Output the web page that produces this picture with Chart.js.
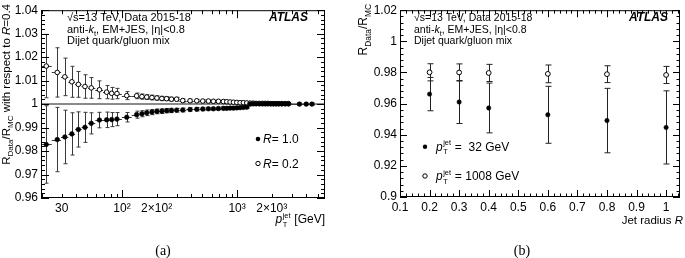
<!DOCTYPE html>
<html><head><meta charset="utf-8">
<script src="https://cdn.jsdelivr.net/npm/chart.js@4/dist/chart.umd.min.js"></script>
<style>
html,body{margin:0;padding:0;background:#fff;}
#wrap{position:relative;width:685px;height:258px;overflow:hidden;background:#fff;}
canvas{position:absolute;top:0;}
#ca{left:0;}
#cb{left:342px;}
</style></head><body>
<div id="wrap">
<canvas id="ca" width="342" height="258"></canvas>
<canvas id="cb" width="343" height="258"></canvas>
</div>
<script>
// ---------- Panel (a) data ----------
const ptBins = [22,27.4,31.9,36.7,41.8,47.7,54.1,63.7,73.6,81.4,90.5,110,134,149,164,182,201,222,244,269,298,337,390,446,503,563,622,688,760,814,869,929,994,1062,1134,1214,1297,1378,1463,1563,1660,1752,1849,1963,2069,2184,2305,2447,2615,2793,3480,3981,4463];
const ratioR02 = [1.0162,1.0135,1.0116,1.0095,1.0084,1.0075,1.0069,1.0061,1.0051,1.0046,
  1.0045,1.0036,1.0035,1.0032,1.0030,1.0028,1.0026,1.0024,1.0023,1.0021,
  1.0021,1.0015,1.0014,1.0014,1.0013,1.0013,1.0012,1.0012,1.0011,1.0010,
  1.0009,1.0008,1.0007,1.0006,1.0006,1.0005,1.0004,1.0004,1.0003,1.0003,
  1.0003,1.0003,1.0003,1.0002,1.0002,1.0002,1.0002,1.0002,1.0002,1.0002];
const errR02 = [0.0135,0.0105,0.0080,0.0066,0.0055,0.0050,0.0044,0.0038,0.0028,0.0025,
  0.0022,0.0017,0.0012,0.0011,0.0010,0.0010,0.0009,0.0009,0.0008,0.0008,
  0.0008,0.0007,0.0007,0.0006,0.0006,0.0006,0.0005,0.0005,0.0005,0.0005,
  0.0004,0.0004,0.0004,0.0004,0.0004,0.0004,0.0004,0.0003,0.0003,0.0003,
  0.0003,0.0003,0.0003,0.0003,0.0003,0.0003,0.0003,0.0003,0.0003,0.0003];
const ratioR10 = [0.9828,0.9849,0.9860,0.9873,0.9892,0.9901,0.9918,0.9932,0.9933,0.9934,
  0.9936,0.9944,0.9955,0.9959,0.9963,0.9966,0.9969,0.9970,0.9972,0.9973,
  0.9974,0.9975,0.9977,0.9978,0.9979,0.9980,0.9980,0.9981,0.9982,0.9982,
  0.9983,0.9983,0.9984,0.9985,0.9986,0.9987,1.0000,1.0001,1.0001,1.0001,
  1.0001,1.0001,1.0001,1.0001,1.0001,1.0001,1.0001,1.0001,1.0001,1.0001,
  1.0000,1.0000,1.0000];
const errR10 = [0.0165,0.0137,0.0114,0.0090,0.0075,0.0064,0.0045,0.0033,0.0033,0.0030,
  0.0028,0.0020,0.0015,0.0013,0.0012,0.0011,0.0010,0.0010,0.0009,0.0009,
  0.0008,0.0008,0.0007,0.0007,0.0007,0.0006,0.0006,0.0006,0.0006,0.0005,
  0.0005,0.0005,0.0005,0.0005,0.0005,0.0005,0.0004,0.0004,0.0004,0.0004,
  0.0004,0.0004,0.0004,0.0004,0.0004,0.0004,0.0004,0.0004,0.0004,0.0004,
  0.0005,0.0005,0.0006];
const xTickValsA = [30,100,200,1000,2000];
const xTickLabelsA = ['30','10\u00B2','2\u00D710\u00B2','10\u00B3','2\u00D710\u00B3'];
const yTickValsA = [0.96,0.97,0.98,0.99,1,1.01,1.02,1.03,1.04];
const yTickLabelsA = ['0.96','0.97','0.98','0.99','1','1.01','1.02','1.03','1.04'];

// ---------- Panel (b) data ----------
const jetRadius = [0.2,0.3,0.4,0.6,0.8,1.0];
const ratioPt32 = [0.9661,0.9610,0.9572,0.9528,0.9491,0.9447];
const errPt32 = [0.0107,0.0138,0.0160,0.0183,0.0207,0.0235];
const ratioPt1008 = [0.9801,0.9800,0.9797,0.9791,0.9789,0.9784];
const errPt1008 = [0.0055,0.0055,0.0055,0.0057,0.0054,0.0055];
const xTickValsB = [0.1,0.2,0.3,0.4,0.5,0.6,0.7,0.8,0.9,1.0];
const xTickLabelsB = ['0.1','0.2','0.3','0.4','0.5','0.6','0.7','0.8','0.9','1'];
const yTickValsB = [0.9,0.92,0.94,0.96,0.98,1.0,1.02];
const yTickLabelsB = ['0.9','0.92','0.94','0.96','0.98','1','1.02'];

// ---------- helpers ----------
const SANS = '"Liberation Sans", Arial, Helvetica, sans-serif';
function setFont(ctx, size, style){ ctx.font = (style ? style + ' ' : '') + size + 'px ' + SANS; }
function drawRich(ctx, segs, x, y, size, align){
  let w = 0; const parts = [];
  const ssz = size*0.62;
  for (const g of segs){
    if (g.s === 'ss'){
      setFont(ctx, ssz, '');
      const w1 = ctx.measureText(g.t[0]).width, w2 = ctx.measureText(g.t[1]).width;
      parts.push({g, x:w}); w += Math.max(w1, w2) + 1;
    } else {
      let sz = size, st = '';
      if (g.s === 'i') st = 'italic';
      if (g.s === 'b') st = 'bold italic';
      if (g.s === 'sub' || g.s === 'sup') sz = size*0.7;
      setFont(ctx, sz, st);
      parts.push({g, x:w, sz, st}); w += ctx.measureText(g.t).width;
    }
  }
  const x0 = align === 'right' ? x - w : align === 'center' ? x - w/2 : x;
  ctx.textBaseline = 'alphabetic'; ctx.textAlign = 'left'; ctx.fillStyle = '#000';
  for (const p of parts){
    const g = p.g;
    if (g.s === 'ss'){
      setFont(ctx, ssz, '');
      ctx.fillText(g.t[0], x0 + p.x + 0.5, y + size*0.33);
      ctx.fillText(g.t[1], x0 + p.x + 0.5, y - size*0.42);
    } else {
      setFont(ctx, p.sz, p.st);
      const dy = g.s === 'sub' ? size*0.3 : g.s === 'sup' ? -size*0.45 : 0;
      ctx.fillText(g.t, x0 + p.x, y + dy);
    }
  }
  return w;
}
function drawTicks(chart, xs, ys){
  const {ctx, chartArea:ca, scales:{x, y}} = chart;
  ctx.save(); ctx.strokeStyle = '#000'; ctx.lineWidth = 1; ctx.beginPath();
  for (const [v, L] of xs){
    const px = Math.round(x.getPixelForValue(v)) + 0.5;
    if (px < ca.left || px > ca.right) continue;
    ctx.moveTo(px, ca.bottom); ctx.lineTo(px, ca.bottom - L);
    ctx.moveTo(px, ca.top); ctx.lineTo(px, ca.top + L);
  }
  for (const [v, L] of ys){
    const py = Math.round(y.getPixelForValue(v)) + 0.5;
    if (py < ca.top - 1 || py > ca.bottom + 1) continue;
    ctx.moveTo(ca.left, py); ctx.lineTo(ca.left + L, py);
    ctx.moveTo(ca.right, py); ctx.lineTo(ca.right - L, py);
  }
  ctx.stroke();
  ctx.strokeRect(ca.left + 0.5, ca.top + 0.5, ca.right - ca.left - 1, ca.bottom - ca.top - 1);
  ctx.restore();
}
function vErr(ctx, px, yScale, v, e, cap){
  const t = yScale.getPixelForValue(v + e), b = yScale.getPixelForValue(v - e);
  ctx.moveTo(px, t); ctx.lineTo(px, b);
  if (cap){ ctx.moveTo(px - cap, t); ctx.lineTo(px + cap, t); ctx.moveTo(px - cap, b); ctx.lineTo(px + cap, b); }
}

// ---------- Panel (a) ----------
const pluginA = {
  id: 'pa',
  beforeDatasetsDraw(chart){
    const {ctx, chartArea:ca, scales:{x, y}} = chart;
    ctx.save();
    ctx.beginPath(); ctx.rect(ca.left, ca.top, ca.right - ca.left, ca.bottom - ca.top); ctx.clip();
    ctx.strokeStyle = '#8a8a8a'; ctx.lineWidth = 2;
    const y1 = y.getPixelForValue(1);
    ctx.beginPath(); ctx.moveTo(ca.left, y1); ctx.lineTo(ca.right, y1); ctx.stroke();
    ctx.strokeStyle = '#3a3a3a'; ctx.lineWidth = 1;
    const series = [[ratioR02, errR02], [ratioR10, errR10]];
    for (const [vals, errs] of series){
      ctx.beginPath();
      for (let i = 0; i < vals.length; i++){
        const p = ptBins[i];
        const lo = i > 0 ? Math.sqrt(ptBins[i-1]*p) : p*p/Math.sqrt(p*ptBins[i+1]);
        const hi = i < ptBins.length - 1 ? Math.sqrt(p*ptBins[i+1]) : p*p/Math.sqrt(ptBins[i-1]*p);
        const px = Math.round(x.getPixelForValue(p)) + 0.5;
        const py = Math.round(y.getPixelForValue(vals[i])) + 0.5;
        ctx.moveTo(x.getPixelForValue(lo), py); ctx.lineTo(x.getPixelForValue(hi), py);
        vErr(ctx, px, y, vals[i], errs[i], 2);
      }
      ctx.stroke();
    }
    ctx.restore();
  },
  afterDraw(chart){
    const {ctx} = chart;
    const xs = [], ys = [];
    for (const d of [10,100,1000]) for (let k = 1; k < 10; k++){ const v = d*k; if (v >= 20 && v <= 5800) xs.push([v, k === 1 ? 8 : 4]); }
    for (let i = 0; i <= 40; i++){ ys.push([0.96 + i*0.002, i % 5 === 0 ? 8 : 4]); }
    drawTicks(chart, xs, ys);
    // texts
    drawRich(ctx, [{t:'\u221As=13 TeV, Data 2015-18', s:'n'}], 67, 21, 11, 'left');
    drawRich(ctx, [{t:'anti-', s:'n'}, {t:'k', s:'i'}, {t:'t', s:'sub'}, {t:', EM+JES, |\u03B7|<0.8', s:'n'}], 67, 32.5, 11, 'left');
    drawRich(ctx, [{t:'Dijet quark/gluon mix', s:'n'}], 67, 44, 11, 'left');
    drawRich(ctx, [{t:'ATLAS', s:'b'}], 308, 21, 12, 'right');
    // legend
    ctx.fillStyle = '#000';
    ctx.beginPath(); ctx.arc(258, 139, 2.3, 0, 2*Math.PI); ctx.fill();
    ctx.strokeStyle = '#000'; ctx.lineWidth = 1;
    ctx.beginPath(); ctx.arc(258, 163.5, 2.2, 0, 2*Math.PI); ctx.stroke();
    drawRich(ctx, [{t:'R', s:'i'}, {t:'= 1.0', s:'n'}], 263, 143.3, 12, 'left');
    drawRich(ctx, [{t:'R', s:'i'}, {t:'= 0.2', s:'n'}], 263, 167.8, 12, 'left');
    // axis titles
    drawRich(ctx, [{t:'p', s:'i'}, {t:['T','jet'], s:'ss'}, {t:' [GeV]', s:'n'}], 325, 223, 12, 'right');
    ctx.save(); ctx.translate(10, 4); ctx.rotate(-Math.PI/2);
    drawRich(ctx, [{t:'R', s:'n'}, {t:'Data', s:'sub'}, {t:'/R', s:'n'}, {t:'MC', s:'sub'}, {t:' with respect to ', s:'n'}, {t:'R', s:'i'}, {t:'=0.4', s:'n'}], 0, 0, 11.5, 'right');
    ctx.restore();
    ctx.fillStyle = '#000'; ctx.font = '14px "Liberation Serif", "Times New Roman", serif';
    ctx.textAlign = 'center'; ctx.textBaseline = 'alphabetic';
    ctx.fillText('(a)', 163, 255);
  }
};

new Chart(document.getElementById('ca'), {
  type: 'scatter',
  data: { datasets: [
    { label: 'R = 1.0', data: ratioR10.map((v, i) => ({x: ptBins[i], y: v})),
      pointRadius: 2.3, pointBackgroundColor: '#000', pointBorderColor: '#000', pointBorderWidth: 0.6, showLine: false, order: 0 },
    { label: 'R = 0.2', data: ratioR02.map((v, i) => ({x: ptBins[i], y: v})),
      pointRadius: 2.3, pointBackgroundColor: '#fff', pointBorderColor: '#000', pointBorderWidth: 1, showLine: false, order: 1 }
  ]},
  options: {
    responsive: false, animation: false, devicePixelRatio: 1,
    layout: { padding: { top: 5, right: 17, left: 0, bottom: 0 } },
    plugins: { legend: { display: false }, tooltip: { enabled: false } },
    scales: {
      x: { type: 'logarithmic', min: 19.8, max: 5800,
        afterFit(s){ s.height = 60; },
        afterBuildTicks(s){ s.ticks = xTickValsA.map(v => ({value: v})); },
        ticks: { autoSkip: false, maxRotation: 0, padding: 3, color: '#000',
          font: { family: SANS, size: 12 }, callback: (v, i) => xTickLabelsA[i] },
        grid: { display: false, drawTicks: false }, border: { display: false } },
      y: { min: 0.96, max: 1.04,
        afterFit(s){ s.width = 41; },
        afterBuildTicks(s){ s.ticks = yTickValsA.map(v => ({value: v})); },
        ticks: { autoSkip: false, padding: 3, color: '#000',
          font: { family: SANS, size: 12 }, callback: (v, i) => yTickLabelsA[i] },
        grid: { display: false, drawTicks: false }, border: { display: false } }
    }
  },
  plugins: [pluginA]
});

// ---------- Panel (b) ----------
const pluginB = {
  id: 'pb',
  beforeDatasetsDraw(chart){
    const {ctx, scales:{x, y}} = chart;
    ctx.save(); ctx.strokeStyle = '#222'; ctx.lineWidth = 1; ctx.beginPath();
    for (const [vals, errs] of [[ratioPt32, errPt32], [ratioPt1008, errPt1008]]){
      for (let i = 0; i < vals.length; i++){
        const px = Math.round(x.getPixelForValue(jetRadius[i])) + 0.5;
        vErr(ctx, px, y, vals[i], errs[i], 3);
      }
    }
    ctx.stroke(); ctx.restore();
  },
  afterDraw(chart){
    const {ctx} = chart;
    const xs = [], ys = [];
    for (let i = 0; i <= 47; i++) xs.push([0.1 + i*0.02, i % 5 === 0 ? 7 : 3.5]);
    for (let i = 0; i <= 30; i++) ys.push([0.9 + i*0.004, i % 5 === 0 ? 7 : 3.5]);
    drawTicks(chart, xs, ys);
    drawRich(ctx, [{t:'\u221As=13 TeV, Data 2015-18', s:'n'}], 72, 21, 10.5, 'left');
    drawRich(ctx, [{t:'anti-', s:'n'}, {t:'k', s:'i'}, {t:'t', s:'sub'}, {t:', EM+JES, |\u03B7|<0.8', s:'n'}], 72, 32.5, 10.5, 'left');
    drawRich(ctx, [{t:'Dijet quark/gluon mix', s:'n'}], 72, 44, 10.5, 'left');
    drawRich(ctx, [{t:'ATLAS', s:'b'}], 326, 21, 12, 'right');
    ctx.fillStyle = '#000';
    ctx.beginPath(); ctx.arc(83, 146.7, 2.2, 0, 2*Math.PI); ctx.fill();
    ctx.strokeStyle = '#000'; ctx.lineWidth = 1;
    ctx.beginPath(); ctx.arc(83, 176, 2.2, 0, 2*Math.PI); ctx.stroke();
    drawRich(ctx, [{t:'p', s:'i'}, {t:['T','jet'], s:'ss'}, {t:' =  32 GeV', s:'n'}], 94, 150.5, 12, 'left');
    drawRich(ctx, [{t:'p', s:'i'}, {t:['T','jet'], s:'ss'}, {t:' = 1008 GeV', s:'n'}], 94, 180, 12, 'left');
    drawRich(ctx, [{t:'Jet radius ', s:'n'}, {t:'R', s:'i'}], 341, 224, 11.5, 'right');
    ctx.save(); ctx.translate(25, 4); ctx.rotate(-Math.PI/2);
    drawRich(ctx, [{t:'R', s:'n'}, {t:'Data', s:'sub'}, {t:'/R', s:'n'}, {t:'MC', s:'sub'}], 0, 0, 12, 'right');
    ctx.restore();
    ctx.fillStyle = '#000'; ctx.font = '14px "Liberation Serif", "Times New Roman", serif';
    ctx.textAlign = 'center'; ctx.textBaseline = 'alphabetic';
    ctx.fillText('(b)', 180, 255);
  }
};

new Chart(document.getElementById('cb'), {
  type: 'scatter',
  data: { datasets: [
    { label: 'pT = 32 GeV', data: ratioPt32.map((v, i) => ({x: jetRadius[i], y: v})),
      pointRadius: 2.2, pointBackgroundColor: '#000', pointBorderColor: '#000', pointBorderWidth: 0.5, showLine: false },
    { label: 'pT = 1008 GeV', data: ratioPt1008.map((v, i) => ({x: jetRadius[i], y: v})),
      pointRadius: 2.4, pointBackgroundColor: '#fff', pointBorderColor: '#000', pointBorderWidth: 1, showLine: false }
  ]},
  options: {
    responsive: false, animation: false, devicePixelRatio: 1,
    layout: { padding: { top: 5, right: 2, left: 0, bottom: 0 } },
    plugins: { legend: { display: false }, tooltip: { enabled: false } },
    scales: {
      x: { type: 'linear', min: 0.1, max: 1.047,
        afterFit(s){ s.height = 61; },
        afterBuildTicks(s){ s.ticks = xTickValsB.map(v => ({value: v})); },
        ticks: { autoSkip: false, maxRotation: 0, padding: 3, color: '#000',
          font: { family: SANS, size: 12 }, callback: (v, i) => xTickLabelsB[i] },
        grid: { display: false, drawTicks: false }, border: { display: false } },
      y: { min: 0.9, max: 1.02,
        afterFit(s){ s.width = 58; },
        afterBuildTicks(s){ s.ticks = yTickValsB.map(v => ({value: v})); },
        ticks: { autoSkip: false, padding: 3, color: '#000',
          font: { family: SANS, size: 12 }, callback: (v, i) => yTickLabelsB[i] },
        grid: { display: false, drawTicks: false }, border: { display: false } }
    }
  },
  plugins: [pluginB]
});
</script>
</body></html>
